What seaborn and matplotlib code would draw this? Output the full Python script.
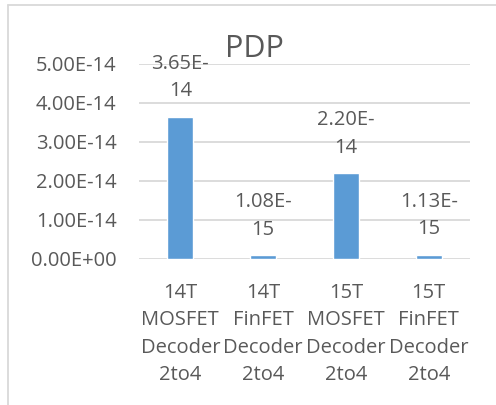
import matplotlib
matplotlib.use("Agg")
import matplotlib.pyplot as plt
from matplotlib.lines import Line2D
import seaborn as sns

# data
categories = ["14T\nMOSFET\nDecoder\n2to4", "14T\nFinFET\nDecoder\n2to4",
              "15T\nMOSFET\nDecoder\n2to4", "15T\nFinFET\nDecoder\n2to4"]
pdp = [3.65e-14, 1.08e-15, 2.20e-14, 1.13e-15]
yticks = [0, 1e-14, 2e-14, 3e-14, 4e-14, 5e-14]
ytick_labels = ["0.00E+00", "1.00E-14", "2.00E-14", "3.00E-14", "4.00E-14", "5.00E-14"]

sns.set_style("white")
plt.rcParams['font.family'] = ['Open Sans', 'DejaVu Sans']
txt = '#595959'
grid = '#d9d9d9'

fig = plt.figure(figsize=(4.96, 4.05), dpi=100)
ax = fig.add_axes([0.280, 0.3605, 0.668, 0.4815])

sns.barplot(x=categories, y=pdp, color='#5B9BD5', saturation=1, width=0.31, ax=ax)

ax.set_ylim(0, 5e-14)
ax.set_xlim(-0.5, 3.5)
ax.set_yticks(yticks)
ax.set_yticklabels(ytick_labels, color=txt, fontsize=14.5)
ax.set_xticklabels(categories, color=txt, fontsize=14.5, linespacing=1.5)
ax.tick_params(axis='both', length=0)
ax.tick_params(axis='y', pad=16)
ax.tick_params(axis='x', pad=17)
for s in ax.spines.values():
    s.set_visible(False)
ax.set_axisbelow(True)
ax.yaxis.grid(True, color=grid, linewidth=1.3)
ax.set_ylabel("")
ax.set_xlabel("")

# data labels, wrapped like the original
for i, v in enumerate(pdp):
    s = f"{v:.2E}"
    mant, exp = s.split("E-")
    lab = mant + "E-\n" + exp
    ax.annotate(lab, (i, v), xytext=(0, 11), textcoords='offset points',
                ha='center', va='bottom', fontsize=14.5, color=txt,
                linespacing=1.5, annotation_clip=False)

fig.text(0.512, 0.878, "PDP", ha='center', va='center', fontsize=22, color=txt)

# chart frame
fig.add_artist(Line2D([8/496, 8/496], [0, 1 - 5/405], color=grid, lw=1.3,
                      transform=fig.transFigure))
fig.add_artist(Line2D([8/496, 1], [1 - 5/405, 1 - 5/405], color=grid, lw=1.3,
                      transform=fig.transFigure))

fig.savefig("out.png", dpi=100)
